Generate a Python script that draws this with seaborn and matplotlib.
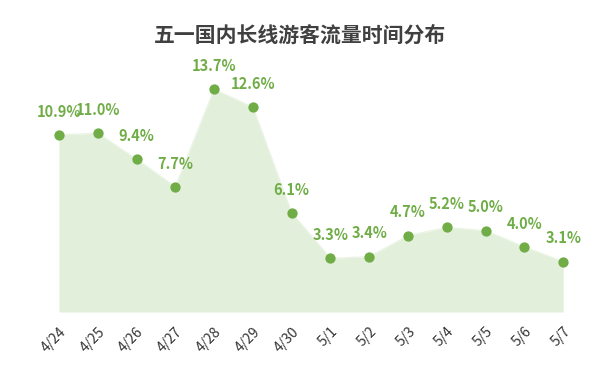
import matplotlib
matplotlib.use("Agg")
import matplotlib.pyplot as plt
import seaborn as sns
import pandas as pd

dates = ["4/24", "4/25", "4/26", "4/27", "4/28", "4/29", "4/30",
         "5/1", "5/2", "5/3", "5/4", "5/5", "5/6", "5/7"]
share = [10.9, 11.0, 9.4, 7.7, 13.7, 12.6, 6.1, 3.3, 3.4, 4.7, 5.2, 5.0, 4.0, 3.1]
title = "五一国内长线游客流量时间分布"

sns.set_theme(style="white")
plt.rcParams['font.family'] = ['Noto Sans CJK SC', 'DejaVu Sans']

df = pd.DataFrame({"idx": range(len(dates)), "date": dates, "share": share})

fig = plt.figure(figsize=(6.0, 3.72), dpi=100)
ax = fig.add_axes([0.066, 0.1613, 0.905, 0.699])

green = "#70ad47"
fill = "#e2efda"

ax.fill_between(df["idx"], 0, df["share"], color=fill, linewidth=0, zorder=1)
sns.lineplot(data=df, x="idx", y="share", ax=ax, color="#eaf4e5", linewidth=1.0, zorder=2)
sns.scatterplot(data=df, x="idx", y="share", ax=ax, color=green, s=55,
                edgecolor=green, linewidth=0, zorder=3)

for i, v in zip(df["idx"], df["share"]):
    ax.annotate(f"{v:.1f}%", (i, v), xytext=(0, 11), textcoords="offset points",
                ha="center", va="bottom", color=green, fontsize=10.5,
                fontweight="bold")

ax.set_xlim(-0.5, 13.5)
ax.set_ylim(0, 16)
ax.set_xticks(df["idx"])
ax.set_xticklabels(dates, rotation=45, ha="right", rotation_mode="anchor",
                   fontsize=10, color="#333333")
ax.tick_params(axis="x", length=0, pad=9)
ax.set_yticks([])
ax.set_xlabel("")
ax.set_ylabel("")
for s in ax.spines.values():
    s.set_visible(False)

fig.text(0.5, 0.905, title, ha="center", va="center", fontsize=15,
         fontweight="bold", color="#404040")

fig.savefig("out.png", dpi=100)
